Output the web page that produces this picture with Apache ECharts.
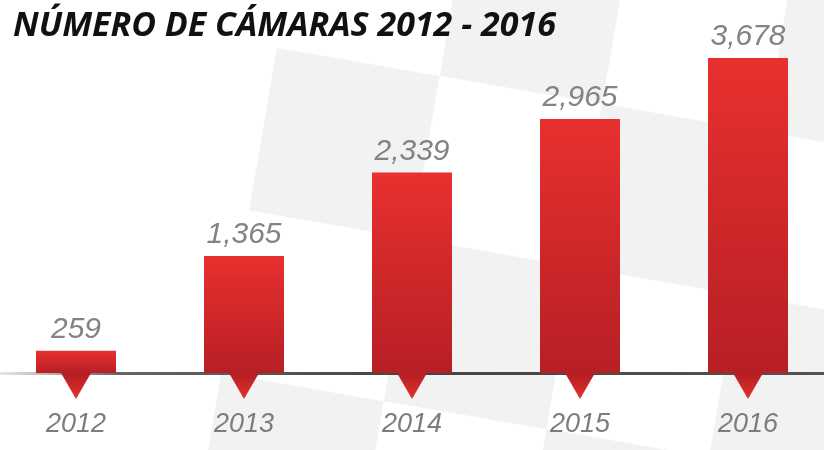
<!DOCTYPE html>
<html lang="es">
<head>
  <meta charset="UTF-8">
  <title>Número de cámaras 2012 - 2016</title>
  <script src="https://cdn.jsdelivr.net/npm/echarts@6/dist/echarts.min.js"></script>
  <style>
    html, body { margin: 0; padding: 0; background: #fff; }
    #chart { width: 824px; height: 450px; }
  </style>
</head>
<body>
  <div id="chart"></div>
  <script>
    // datos
    const years = ['2012', '2013', '2014', '2015', '2016'];
    const cameras = [259, 1365, 2339, 2965, 3678];
    const markers = [0, 0, 0, 0, 0];

    var myChart = echarts.init(document.getElementById('chart'));

    const numFont = "'Liberation Sans Narrow', 'Liberation Sans', sans-serif";

    // fondo gris a cuadros (bandera inclinada)
    const cell = 165;
    const greyCells = [[0, 0], [2, 0], [1, -1], [3, -1], [1, 1], [3, 1], [0, 2], [2, 2]];
    const checker = {
      type: 'group',
      x: 277,
      y: 48,
      rotation: -0.17,
      silent: true,
      z: -10,
      children: greyCells.map(([c, r]) => ({
        type: 'rect',
        shape: { x: c * cell, y: r * cell, width: cell, height: cell },
        style: { fill: '#f2f2f2' },
        z: -10
      }))
    };

    var option = {
      backgroundColor: '#fff',
      title: {
        text: 'NÚMERO DE CÁMARAS 2012 - 2016',
        left: 8,
        top: 4,
        textStyle: {
          fontFamily: "'Open Sans', sans-serif",
          fontStyle: 'italic',
          fontWeight: 'bold',
          fontSize: 34,
          color: '#111'
        }
      },
      graphic: [checker],
      grid: { left: -8, right: -8, top: 56, bottom: 77, outerBoundsMode: 'none', containLabel: false },
      xAxis: {
        type: 'category',
        data: years,
        axisTick: { show: false },
        axisLine: {
          lineStyle: {
            width: 3,
            color: new echarts.graphic.LinearGradient(0, 0, 1, 0, [
              { offset: 0, color: 'rgba(120,120,120,0.1)' },
              { offset: 0.15, color: '#666' },
              { offset: 0.5, color: '#444' },
              { offset: 1, color: '#555' }
            ])
          }
        },
        axisLabel: {
          margin: 38,
          fontFamily: numFont,
          fontStyle: 'italic',
          fontSize: 27,
          color: '#7d7d7d'
        }
      },
      yAxis: {
        type: 'value',
        min: 0,
        max: 3700,
        show: false,
        splitLine: { show: false }
      },
      series: [
        {
          type: 'bar',
          data: cameras,
          barWidth: 80,
          itemStyle: {
            color: new echarts.graphic.LinearGradient(0, 0, 0, 1, [
              { offset: 0, color: '#e8302f' },
              { offset: 1, color: '#b71f25' }
            ])
          },
          label: {
            show: true,
            position: 'top',
            distance: 6,
            fontFamily: numFont,
            fontStyle: 'italic',
            fontSize: 30,
            color: '#838383',
            formatter: ({ value }) => value.toLocaleString('en-US')
          },
          z: 2
        },
        {
          type: 'scatter',
          data: markers,
          symbol: 'path://M0,0 L30,0 L15,26 Z',
          symbolSize: [30, 26],
          symbolOffset: [0, 13],
          itemStyle: {
            opacity: 1,
            color: new echarts.graphic.LinearGradient(0, 0, 0, 1, [
              { offset: 0, color: '#b21e24' },
              { offset: 1, color: '#e5302f' }
            ])
          },
          silent: true,
          z: 3
        }
      ]
    };

    myChart.setOption(option);
  </script>
</body>
</html>
